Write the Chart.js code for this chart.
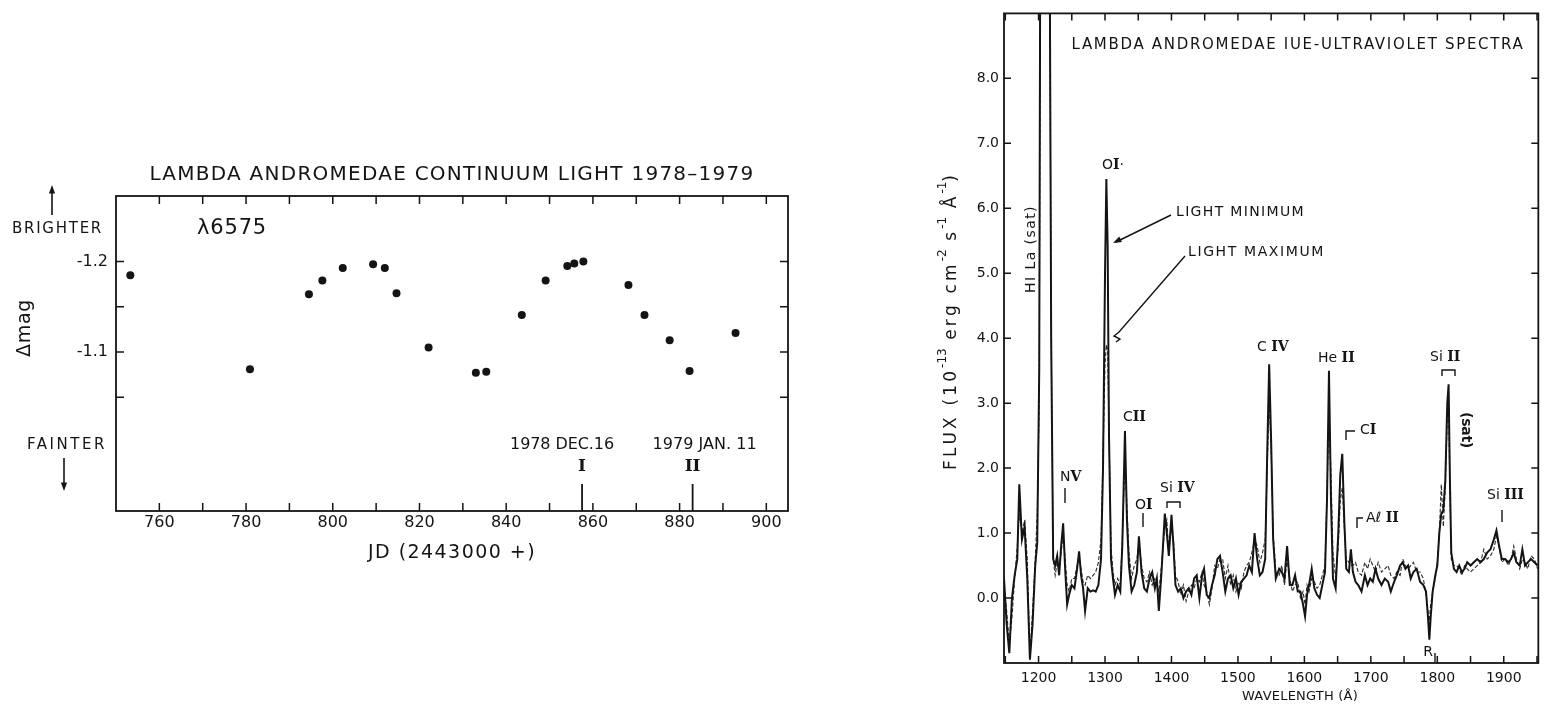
<!DOCTYPE html>
<html>
<head>
<meta charset="utf-8">
<script src="https://cdn.jsdelivr.net/npm/chart.js@4.4.1/dist/chart.umd.min.js"></script>
<style>
  body { margin: 0; background: #fff; width: 1544px; height: 708px; overflow: hidden; position: relative; }
  #lightCurve { position: absolute; left: 0; top: 0; }
  #uvSpectra { position: absolute; left: 900px; top: 0; }
</style>
</head>
<body>
<canvas id="lightCurve" width="800" height="600"></canvas>
<canvas id="uvSpectra" width="644" height="708"></canvas>
<script>
// ---- light curve (left panel) ----
const jdDays = [753.3, 780.9, 794.5, 797.6, 802.3, 809.3, 812.0, 814.7, 822.1, 833.0, 835.4,
                843.6, 849.1, 854.1, 855.7, 857.8, 868.2, 871.9, 877.7, 882.3, 892.9];
const deltaMag = [-1.185, -1.081, -1.164, -1.179, -1.193, -1.197, -1.193, -1.165, -1.105, -1.077, -1.078,
                  -1.141, -1.179, -1.195, -1.198, -1.200, -1.174, -1.141, -1.113, -1.079, -1.121];
const jdTicks = [760, 770, 780, 790, 800, 810, 820, 830, 840, 850, 860, 870, 880, 890, 900];
const magTicks = [-1.2, -1.15, -1.1, -1.05];
const epochJD = [857.5, 883];
const epochNames = ['I', 'II'];
const epochDates = ['1978 DEC.16', '1979 JAN. 11'];

// ---- IUE spectra (right panel) ----
const wavelength = [
  1148,1152,1156,1160,1164,1168,1171,1175,1179,1183,
  1187,1191,1195,1198,1201,1203,1207,1212,1216,1219,
  1222,1225,1228,1231,1234,1237,1240,1243,1246,1250,
  1254,1258,1261,1264,1267,1270,1274,1278,1282,1286,
  1290,1294,1297,1300,1302,1304,1306,1309,1312,1315,
  1319,1323,1326,1330,1333,1336,1340,1344,1348,1351,
  1355,1359,1363,1367,1371,1375,1378,1381,1385,1390,
  1393,1396,1400,1403,1406,1410,1414,1418,1422,1426,
  1430,1434,1438,1442,1446,1449,1453,1457,1461,1465,
  1469,1473,1477,1481,1485,1489,1493,1497,1501,1505,
  1509,1513,1517,1521,1525,1529,1533,1537,1541,1544,
  1547,1550,1553,1557,1562,1566,1570,1574,1578,1582,
  1586,1590,1594,1598,1601,1604,1607,1611,1615,1619,
  1623,1627,1631,1634,1637,1640,1643,1647,1651,1654,
  1657,1660,1663,1667,1670,1673,1677,1681,1686,1691,
  1695,1699,1703,1707,1711,1716,1721,1726,1730,1735,
  1739,1744,1748,1752,1756,1760,1764,1769,1774,1779,
  1783,1786,1788,1790,1793,1797,1800,1803,1806,1809,
  1812,1815,1817,1819,1821,1825,1829,1833,1837,1841,
  1845,1850,1855,1860,1865,1870,1875,1880,1885,1889,
  1893,1897,1902,1907,1911,1915,1919,1924,1928,1932,
  1936,1941,1946,1951
];
const fluxLightMin = [
  0.3,-0.4,-0.85,0.0,0.35,0.6,1.75,0.9,1.1,0.3,
  -0.95,-0.4,0.5,0.85,3.5,12,14,14,12,4,
  0.6,0.5,0.65,0.35,0.8,1.15,0.45,-0.1,0.05,0.2,
  0.15,0.45,0.72,0.35,0.15,-0.2,0.15,0.1,0.12,0.1,
  0.2,0.6,2.0,5.0,6.45,5.4,2.5,0.6,0.3,0.05,
  0.2,0.1,0.8,2.57,1.2,0.5,0.1,0.2,0.4,0.95,
  0.4,0.15,0.1,0.3,0.4,0.15,0.3,-0.2,0.4,1.3,
  1.0,0.65,1.28,0.8,0.2,0.1,0.15,0.0,0.1,0.15,
  0.05,0.3,0.35,0.0,0.35,0.45,0.05,0.0,0.2,0.35,
  0.6,0.65,0.4,0.1,0.3,0.35,0.15,0.3,0.05,0.25,
  0.3,0.35,0.5,0.4,1.0,0.6,0.35,0.4,0.6,2.2,
  3.6,2.4,0.9,0.3,0.45,0.4,0.3,0.8,0.2,0.2,
  0.35,0.1,0.1,-0.1,-0.28,0.05,0.2,0.45,0.15,0.05,
  0.0,0.2,0.4,1.5,3.5,1.5,0.3,0.15,1.0,1.9,
  2.22,1.2,0.45,0.4,0.75,0.4,0.25,0.2,0.1,0.35,
  0.2,0.3,0.25,0.45,0.3,0.2,0.3,0.25,0.1,0.25,
  0.35,0.5,0.55,0.45,0.5,0.3,0.4,0.45,0.25,0.2,
  0.1,-0.3,-0.64,-0.3,0.1,0.35,0.5,1.0,1.3,1.35,
  1.8,3.0,3.29,1.8,0.7,0.45,0.4,0.5,0.4,0.45,
  0.55,0.5,0.55,0.6,0.55,0.6,0.7,0.75,0.9,1.04,
  0.8,0.6,0.6,0.55,0.6,0.7,0.55,0.5,0.75,0.5,
  0.55,0.6,0.55,0.5
];
const fluxLightMax = [
  0.2,-0.2,-0.7,-0.3,0.3,0.8,1.3,1.0,1.2,0.6,
  -0.9,-0.2,0.6,1.3,3.0,12,14,14,12,4,
  0.6,0.35,0.55,0.45,0.7,1.0,0.6,0.2,0.1,0.3,
  0.3,0.5,0.65,0.45,0.25,0.2,0.35,0.3,0.35,0.4,
  0.55,0.9,2.2,3.6,3.9,3.8,2.6,0.8,0.4,0.2,
  0.3,0.2,0.9,2.1,1.4,0.7,0.3,0.5,0.6,0.85,
  0.5,0.3,0.25,0.4,0.2,0.3,0.2,0.1,0.5,1.1,
  1.2,0.7,1.1,0.9,0.35,0.25,0.05,0.2,-0.05,0.1,
  0.2,0.15,0.3,0.25,0.4,0.2,0.1,-0.1,0.15,0.5,
  0.45,0.6,0.6,0.3,0.5,0.2,0.35,0.1,0.25,0.15,
  0.4,0.5,0.55,0.7,0.9,0.8,0.55,0.7,0.9,2.0,
  3.0,2.3,1.0,0.4,0.35,0.5,0.2,0.6,0.3,0.1,
  0.2,0.25,0.0,0.1,-0.1,0.2,0.1,0.3,0.25,0.15,
  0.2,0.35,0.5,1.6,2.9,1.9,0.7,0.3,0.8,1.5,
  1.7,1.1,0.6,0.55,0.5,0.5,0.55,0.4,0.35,0.55,
  0.45,0.6,0.5,0.4,0.55,0.4,0.45,0.5,0.35,0.3,
  0.4,0.35,0.6,0.5,0.45,0.5,0.55,0.4,0.4,0.3,
  0.05,-0.2,-0.35,-0.1,0.1,0.3,0.55,1.0,1.75,1.1,
  1.7,2.8,3.0,1.6,0.6,0.5,0.5,0.45,0.35,0.5,
  0.45,0.4,0.45,0.5,0.55,0.75,0.6,0.65,0.75,0.95,
  0.8,0.55,0.6,0.5,0.6,0.8,0.6,0.45,0.6,0.55,
  0.45,0.65,0.6,0.45
];
const waveTicks = [1150, 1200, 1250, 1300, 1350, 1400, 1450, 1500, 1550, 1600,
                   1650, 1700, 1750, 1800, 1850, 1900, 1950];
const fluxTicks = [0, 1, 2, 3, 4, 5, 6, 7, 8];

const INK = '#141414';
const SANS = '"DejaVu Sans", sans-serif';
const SERIF = '"DejaVu Serif", serif';

function spacedText(ctx, text, x, y, width, align) {
    ctx.save();
    ctx.letterSpacing = '0px';
    const w0 = ctx.measureText(text).width;
    const sp = width ? (width - w0) / text.length : 0;
    ctx.letterSpacing = sp + 'px';
    ctx.textAlign = 'left';
    ctx.textBaseline = 'middle';
    const left = align === 'center' ? x - width / 2 : x;
    ctx.fillText(text, left, y);
    ctx.restore();
}

// parts: [text, font]
function mixedText(ctx, parts, x, y) {
    ctx.textAlign = 'left';
    ctx.textBaseline = 'middle';
    let cx = x;
    for (const [t, f] of parts) {
        ctx.font = f;
        ctx.fillText(t, cx, y);
        cx += ctx.measureText(t).width;
    }
}

function arrowHead(ctx, x1, y1, x2, y2, size) {
    const ang = Math.atan2(y2 - y1, x2 - x1);
    ctx.beginPath();
    ctx.moveTo(x2, y2);
    ctx.lineTo(x2 - size * Math.cos(ang - 0.35), y2 - size * Math.sin(ang - 0.35));
    ctx.lineTo(x2 - size * Math.cos(ang + 0.35), y2 - size * Math.sin(ang + 0.35));
    ctx.closePath();
    ctx.fill();
}

function line(ctx, pts) {
    ctx.beginPath();
    ctx.moveTo(pts[0][0], pts[0][1]);
    for (let i = 1; i < pts.length; i++) ctx.lineTo(pts[i][0], pts[i][1]);
    ctx.stroke();
}

// box round the plot area, with ticks pointing inwards on all four sides
const frameTicks = {
    id: 'frameTicks',
    afterDatasetsDraw(chart, args, opts) {
        const { ctx, chartArea: a, scales: { x, y } } = chart;
        const len = opts.len || 8;
        ctx.save();
        ctx.strokeStyle = INK;
        ctx.lineWidth = 1.8;
        ctx.strokeRect(a.left, a.top, a.right - a.left, a.bottom - a.top);
        ctx.lineWidth = 1.5;
        ctx.beginPath();
        x.ticks.forEach(t => {
            const px = x.getPixelForValue(t.value);
            ctx.moveTo(px, a.bottom); ctx.lineTo(px, a.bottom - len);
            ctx.moveTo(px, a.top); ctx.lineTo(px, a.top + len);
        });
        y.ticks.forEach(t => {
            const py = y.getPixelForValue(t.value);
            ctx.moveTo(a.left, py); ctx.lineTo(a.left + len, py);
            ctx.moveTo(a.right, py); ctx.lineTo(a.right - len, py);
        });
        ctx.stroke();
        ctx.restore();
    }
};

const lightNotes = {
    id: 'lightNotes',
    afterDraw(chart) {
        const { ctx, chartArea: a, scales: { x } } = chart;
        ctx.save();
        ctx.fillStyle = INK;
        ctx.strokeStyle = INK;

        ctx.font = '20px ' + SANS;
        spacedText(ctx, 'LAMBDA ANDROMEDAE CONTINUUM LIGHT 1978\u20131979', 452, 175, 605, 'center');
        ctx.font = '21px ' + SANS;
        spacedText(ctx, '\u03bb6575', 197, 229, 70);

        ctx.font = '15px ' + SANS;
        spacedText(ctx, 'BRIGHTER', 12, 229, 91);
        spacedText(ctx, 'FAINTER', 27, 445, 80);
        ctx.lineWidth = 1.6;
        line(ctx, [[52, 215], [52, 190]]);
        arrowHead(ctx, 52, 200, 52, 185, 9);
        line(ctx, [[64, 458], [64, 484]]);
        arrowHead(ctx, 64, 475, 64, 491, 9);

        ctx.save();
        ctx.translate(25, 328);
        ctx.rotate(-Math.PI / 2);
        ctx.font = '19px ' + SANS;
        spacedText(ctx, '\u0394mag', 0, 0, 58, 'center');
        ctx.restore();

        ctx.font = '19px ' + SANS;
        spacedText(ctx, 'JD (2443000 +)', 452, 553, 168, 'center');

        const dateShift = [-20, 12];
        epochJD.forEach((jd, i) => {
            const px = x.getPixelForValue(jd);
            ctx.font = '16px ' + SANS;
            spacedText(ctx, epochDates[i], px + dateShift[i], 445, 104, 'center');
            ctx.font = 'bold 17px ' + SERIF;
            ctx.textAlign = 'center';
            ctx.textBaseline = 'middle';
            ctx.fillText(epochNames[i], px, 467);
            ctx.lineWidth = 1.8;
            line(ctx, [[px, 484], [px, a.bottom]]);
        });
        ctx.restore();
    }
};

new Chart(document.getElementById('lightCurve'), {
    type: 'scatter',
    data: {
        datasets: [{
            label: 'Continuum light',
            data: jdDays.map((d, i) => ({ x: d, y: deltaMag[i] })),
            pointRadius: 4,
            pointBackgroundColor: INK,
            pointBorderWidth: 0
        }]
    },
    options: {
        responsive: false,
        animation: false,
        layout: { padding: { top: 196, right: 12, left: 0, bottom: 0 } },
        plugins: { legend: { display: false }, tooltip: { enabled: false }, frameTicks: { len: 8 } },
        scales: {
            x: {
                type: 'linear', min: 750, max: 905,
                afterBuildTicks: s => { s.ticks = jdTicks.map(v => ({ value: v })); },
                afterFit: s => { s.height = 89; },
                grid: { display: false, drawTicks: false },
                border: { display: false },
                ticks: {
                    autoSkip: false, maxRotation: 0, padding: 2,
                    color: INK, font: { family: SANS, size: 16 },
                    callback: v => (v % 20 === 0 ? String(v) : '')
                }
            },
            y: {
                type: 'linear', reverse: true, min: -1.2726, max: -0.924,
                afterBuildTicks: s => { s.ticks = magTicks.map(v => ({ value: v })); },
                afterFit: s => { s.width = 116; },
                grid: { display: false, drawTicks: false },
                border: { display: false },
                ticks: {
                    autoSkip: false, padding: 8,
                    color: INK, font: { family: SANS, size: 16 },
                    callback: v => (Math.abs(v + 1.2) < 1e-6 ? '-1.2' : Math.abs(v + 1.1) < 1e-6 ? '-1.1' : '')
                }
            }
        }
    },
    plugins: [frameTicks, lightNotes]
});

const specNotes = {
    id: 'specNotes',
    afterDraw(chart) {
        const { ctx } = chart;
        const sans = '14px ' + SANS;
        const roman = 'bold 14px ' + SERIF;
        ctx.save();
        ctx.fillStyle = INK;
        ctx.strokeStyle = INK;
        ctx.lineWidth = 1.4;

        ctx.font = '15px ' + SANS;
        spacedText(ctx, 'LAMBDA ANDROMEDAE IUE-ULTRAVIOLET SPECTRA', 398, 45, 453, 'center');

        // y axis title with superscripts, spread to the length of the original
        ctx.save();
        ctx.translate(52, 322);
        ctx.rotate(-Math.PI / 2);
        const parts = [['FLUX (10', 0], ['-13', 1], [' erg cm', 0], ['-2', 1], [' s', 0], ['-1', 1], [' \u00c5', 0], ['-1', 1], [')', 0]];
        const fonts = ['17px ' + SANS, '12px ' + SANS];
        let total = 0, chars = 0;
        parts.forEach(([t, k]) => { ctx.font = fonts[k]; total += ctx.measureText(t).width; chars += k ? 0 : t.length; });
        const extra = Math.max(0, (297 - total) / chars);
        let cx = -148;
        ctx.textAlign = 'left';
        ctx.textBaseline = 'middle';
        parts.forEach(([t, k]) => {
            ctx.font = fonts[k];
            for (const ch of t) {
                ctx.fillText(ch, cx, k ? -9 : 0);
                cx += ctx.measureText(ch).width + (k ? 0 : extra);
            }
        });
        ctx.restore();

        ctx.font = '13px ' + SANS;
        spacedText(ctx, 'WAVELENGTH (\u00c5)', 400, 697, 116, 'center');

        // HI La (sat)
        ctx.save();
        ctx.translate(131, 249);
        ctx.rotate(-Math.PI / 2);
        ctx.font = '14px ' + SANS;
        spacedText(ctx, 'HI La (sat)', 0, 0, 88, 'center');
        ctx.restore();

        // (sat) next to Si II
        ctx.save();
        ctx.translate(566, 430);
        ctx.rotate(Math.PI / 2);
        ctx.font = 'bold 14px ' + SANS;
        spacedText(ctx, '(sat)', 0, 0, 36, 'center');
        ctx.restore();

        mixedText(ctx, [['O', sans], ['I', roman], ['\u00b7', sans]], 202, 165);

        ctx.font = sans;
        spacedText(ctx, 'LIGHT MINIMUM', 276, 212, 129);
        spacedText(ctx, 'LIGHT MAXIMUM', 288, 252, 137);
        line(ctx, [[271, 215], [216, 242]]);
        arrowHead(ctx, 240, 230, 213, 243, 9);
        line(ctx, [[285, 256], [219, 332], [214, 336], [220, 339], [216, 342]]);

        mixedText(ctx, [['C', sans], ['II', roman]], 223, 417);
        mixedText(ctx, [['N', sans], ['V', roman]], 160, 477);
        line(ctx, [[165, 488], [165, 503]]);
        mixedText(ctx, [['O', sans], ['I', roman]], 235, 505);
        line(ctx, [[243, 513], [243, 527]]);
        mixedText(ctx, [['Si ', sans], ['IV', roman]], 260, 488);
        line(ctx, [[267, 508], [267, 502], [280, 502], [280, 508]]);
        mixedText(ctx, [['C ', sans], ['IV', roman]], 357, 347);
        mixedText(ctx, [['He ', sans], ['II', roman]], 418, 358);
        line(ctx, [[446, 440], [446, 431], [455, 431]]);
        mixedText(ctx, [['C', sans], ['I', roman]], 460, 430);
        line(ctx, [[457, 528], [457, 518], [463, 518]]);
        mixedText(ctx, [['A\u2113 ', sans], ['II', roman]], 466, 518);
        mixedText(ctx, [['Si ', sans], ['II', roman]], 530, 357);
        line(ctx, [[542, 376], [542, 370], [555, 370], [555, 376]]);
        mixedText(ctx, [['Si ', sans], ['III', roman]], 587, 495);
        line(ctx, [[602, 510], [602, 522]]);
        ctx.font = sans;
        ctx.textAlign = 'center';
        ctx.fillText('R', 528, 652);
        line(ctx, [[535, 653], [535, 662]]);
        ctx.restore();
    }
};

new Chart(document.getElementById('uvSpectra'), {
    type: 'scatter',
    data: {
        datasets: [{
            label: 'Light minimum',
            data: wavelength.map((w, i) => ({ x: w, y: fluxLightMin[i] })),
            showLine: true,
            pointRadius: 0,
            borderColor: INK,
            borderWidth: 2,
            tension: 0
        }, {
            label: 'Light maximum',
            data: wavelength.map((w, i) => ({ x: w, y: fluxLightMax[i] })),
            showLine: true,
            pointRadius: 0,
            borderColor: '#2a2a2a',
            borderWidth: 1.1,
            borderDash: [4, 2],
            tension: 0
        }]
    },
    options: {
        responsive: false,
        animation: false,
        layout: { padding: { top: 11, right: 1, left: 0, bottom: 0 } },
        plugins: { legend: { display: false }, tooltip: { enabled: false }, frameTicks: { len: 7 } },
        scales: {
            x: {
                type: 'linear', min: 1148, max: 1952,
                afterBuildTicks: s => { s.ticks = waveTicks.map(v => ({ value: v })); },
                afterFit: s => { s.height = 45; },
                grid: { display: false, drawTicks: false },
                border: { display: false },
                ticks: {
                    autoSkip: false, maxRotation: 0, padding: 7,
                    color: INK, font: { family: SANS, size: 14 },
                    callback: v => (v % 100 === 0 ? String(v) : '')
                }
            },
            y: {
                type: 'linear', min: -1, max: 9,
                afterBuildTicks: s => { s.ticks = fluxTicks.map(v => ({ value: v })); },
                afterFit: s => { s.width = 104; },
                grid: { display: false, drawTicks: false },
                border: { display: false },
                ticks: {
                    autoSkip: false, padding: 5,
                    color: INK, font: { family: SANS, size: 14 },
                    callback: v => v.toFixed(1)
                }
            }
        }
    },
    plugins: [frameTicks, specNotes]
});
</script>
</body>
</html>
